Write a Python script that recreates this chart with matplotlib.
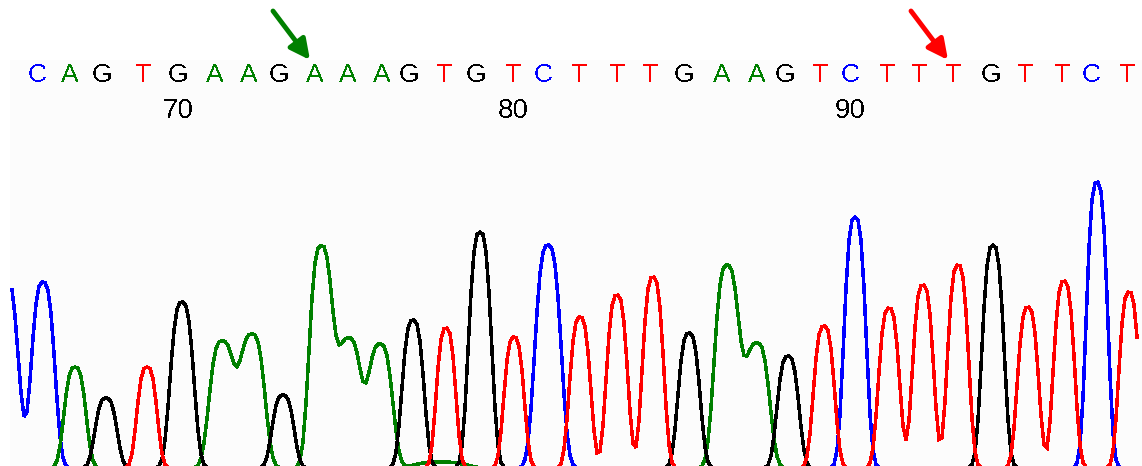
import numpy as np
import matplotlib
matplotlib.use("Agg")
import matplotlib.pyplot as plt
from matplotlib.transforms import blended_transform_factory

# Base calls shown above the trace and their scan positions
bases = list("CAGTGAAGAAAGTGTCTTTGAAGTCTTTGTTCT")
base_pos = [37, 70, 102, 143, 178, 215, 249, 279, 315, 348, 382, 409, 444,
            476, 513, 543, 579, 617, 650, 684, 722, 757, 785, 820, 850, 887,
            919, 953, 991, 1025, 1062, 1091, 1127]
first_base_number = 66
tick_numbers = [70, 80, 90]

# Highlighted bases (base number) and arrow colours
marked_bases = [74, 93]
marked_colors = ["#008000", "#ff0000"]

# Peaks of each dye channel: scan position, signal height, peak width
blue_pos = [5, 43, 548, 855, 1097]
blue_amp = [194, 186, 223, 251, 286]
blue_wid = [16, 14, 15.5, 13, 12.5]

green_pos = [75, 222, 252, 321, 349, 380, 440, 727, 757]
green_amp = [101, 127, 134, 222, 130, 124, 6, 203, 125]
green_wid = [13, 15.3, 15.3, 14, 15, 15, 30, 15, 15]

black_pos = [106, 182, 283, 413, 480, 689, 788, 993]
black_amp = [70, 166, 73, 148, 236, 135, 112, 223]
black_wid = [13, 14, 13, 13, 13.5, 13, 13, 13]

red_pos = [147, 446, 514, 580, 617, 653, 824, 889, 923, 958, 1028, 1064, 1129]
red_amp = [101, 140, 131, 151, 173, 191, 142, 160, 183, 203, 161, 187, 176]
red_wid = [12, 11.5, 12, 12.5, 12.5, 12.5, 12.5, 12.5, 12.5, 12.5, 12.5, 12.5, 12]

base_colors = {"A": "#008000", "C": "#0000ff", "G": "#000000", "T": "#ff0000"}

plt.rcParams["text.antialiased"] = False

W, H = 1142, 466
fig = plt.figure(figsize=(W / 100, H / 100), dpi=100)
fig.patch.set_facecolor("white")

# faint panel behind the trace area
panel = fig.add_axes([10 / W, 0, 1 - 10 / W, (H - 60) / H], zorder=0)
panel.set_facecolor("#fcfcfc")
panel.set_xticks([])
panel.set_yticks([])
for s in panel.spines.values():
    s.set_visible(False)

ax = fig.add_axes([0, 0, 1, 1], zorder=1)
ax.set_xlim(0, W)
ax.set_ylim(2, 468)
ax.axis("off")
ax.patch.set_alpha(0)

scan = np.arange(12, 1140, 3, dtype=float)


def channel(pos, amp, wid):
    sig = np.zeros_like(scan)
    for p, a, w in zip(pos, amp, wid):
        sig += a * np.exp(-np.abs((scan - p) / w) ** 3)
    return sig


for pos, amp, wid, col in [(blue_pos, blue_amp, blue_wid, "#0000ff"),
                           (green_pos, green_amp, green_wid, "#008000"),
                           (black_pos, black_amp, black_wid, "#000000"),
                           (red_pos, red_amp, red_wid, "#ff0000")]:
    ax.plot(scan, channel(pos, amp, wid), color=col, lw=1.8,
            antialiased=False, solid_joinstyle="miter")

tr = blended_transform_factory(ax.transData, fig.transFigure)
for b, x in zip(bases, base_pos):
    ax.text(x, 1 - 75 / H, b, color=base_colors[b], ha="center", va="center",
            fontsize=19, family="Liberation Sans", transform=tr)

for n in tick_numbers:
    x = base_pos[n - first_base_number]
    ax.text(x, 1 - 111 / H, str(n), color="black", ha="center", va="center",
            fontsize=20, family="Liberation Sans", transform=tr)

for n, col in zip(marked_bases, marked_colors):
    x = base_pos[n - first_base_number]
    ax.annotate("", xy=(x - 5, H - 60), xytext=(x - 42, H - 11),
                xycoords=("data", "figure pixels"),
                textcoords=("data", "figure pixels"),
                arrowprops=dict(arrowstyle="-|>,head_length=0.6,head_width=0.3",
                                lw=3.5, color=col, mutation_scale=20,
                                shrinkA=0, shrinkB=0))

fig.savefig("out.png", dpi=100, facecolor="white")
